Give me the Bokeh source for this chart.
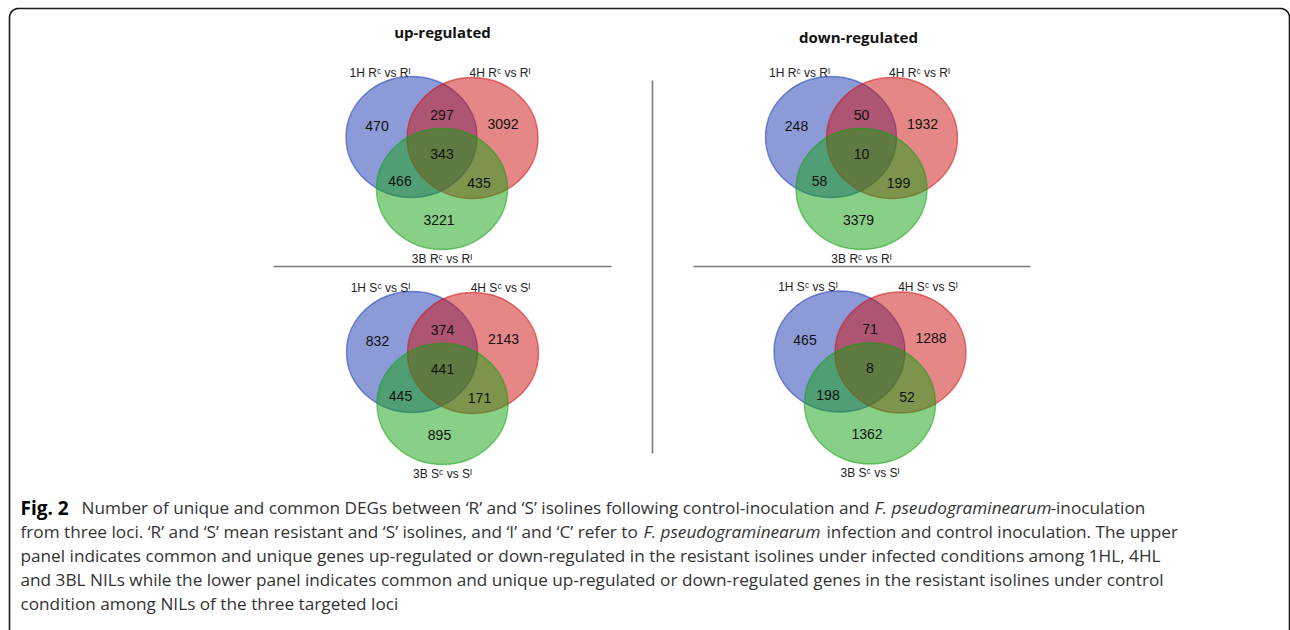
import math
from bokeh.plotting import figure
from bokeh.models import Range1d
from bokeh.core.properties import value
from bokeh.embed import file_html
from bokeh.resources import INLINE

# ---------------------------------------------------------------- data
# Gene counts per Venn region, in the order of `regions`
regions = ["1H only", "1H & 4H", "4H only", "1H & 4H & 3B", "1H & 3B", "4H & 3B", "3B only"]
up_infected = [470, 297, 3092, 343, 466, 435, 3221]
down_infected = [248, 50, 1932, 10, 58, 199, 3379]
up_control = [832, 374, 2143, 441, 445, 171, 895]
down_control = [465, 71, 1288, 8, 198, 52, 1362]

labels_infected = ["1H R\u1d9c vs R\u1d35", "4H R\u1d9c vs R\u1d35", "3B R\u1d9c vs R\u1d35"]
labels_control = ["1H S\u1d9c vs S\u1d35", "4H S\u1d9c vs S\u1d35", "3B S\u1d9c vs S\u1d35"]

column_titles = ["up-regulated", "down-regulated"]

caption_lines = [
    [("Fig. 2", "bold"),
     ("Number of unique and common DEGs between \u2018R\u2019 and \u2018S\u2019 isolines following control-inoculation and", "normal"),
     ("F. pseudograminearum", "italic"),
     ("-inoculation", "normal")],
    [("from three loci. \u2018R\u2019 and \u2018S\u2019 mean resistant and \u2018S\u2019 isolines, and \u2018I\u2019 and \u2018C\u2019 refer to", "normal"),
     ("F. pseudograminearum", "italic"),
     ("infection and control inoculation. The upper", "normal")],
    [("panel indicates common and unique genes up-regulated or down-regulated in the resistant isolines under infected conditions among 1HL, 4HL", "normal")],
    [("and 3BL NILs while the lower panel indicates common and unique up-regulated or down-regulated genes in the resistant isolines under control", "normal")],
    [("condition among NILs of the three targeted loci", "normal")],
]

# ---------------------------------------------------------------- layout
W, H = 1290, 630
panels = [
    # (counts, set labels, centre x, centre y)
    (up_infected, labels_infected, 441.5, 137.0),
    (down_infected, labels_infected, 861.0, 137.0),
    (up_control, labels_control, 442.0, 352.0),
    (down_control, labels_control, 869.5, 351.5),
]
ELL_W, ELL_H = 131, 121
set_offsets = [(-30.5, -0.5), (30.5, 0.5), (0.0, 51.5)]
set_fill = ["#1937AF", "#CD0F0F", "#11A111"]
region_offsets = [(-65, -12), (0, -23), (61, -14), (0, 16), (-42, 43), (37, 45), (-3, 82)]
label_offsets = [(-62, -65), (58, -65), (0, 121)]
title_pos = [(442, 31), (858, 36)]

# left edge of each caption segment (the italic name is about 175 px wide)
caption_x = {0: [20, 81, 874, 1050], 1: [20, 643, 826], 2: [20], 3: [20], 4: [20]}
caption_y = [507, 531, 555, 579, 603]
caption_size = {"bold": "19px", "normal": "17.2px", "italic": "17.2px"}

p = figure(width=W, height=H, output_backend="svg", toolbar_location=None,
           x_range=Range1d(0, W), y_range=Range1d(H, 0),
           x_axis_location=None, y_axis_location=None, min_border=0)
p.grid.visible = False
p.outline_line_color = None
p.background_fill_color = "white"

# frame with rounded top corners
x0, x1, y0, r = 9.0, 1289.0, 8.0, 9.0
bx, by = [x0], [H + 10.0]
for k in range(13):
    t = math.pi + 0.5 * math.pi * k / 12
    bx.append(x0 + r + r * math.cos(t)); by.append(y0 + r + r * math.sin(t))
for k in range(13):
    t = 1.5 * math.pi + 0.5 * math.pi * k / 12
    bx.append(x1 - r + r * math.cos(t)); by.append(y0 + r + r * math.sin(t))
bx.append(x1); by.append(H + 10.0)
p.line(bx, by, line_color="#1a1a1a", line_width=1.6)

# separators
p.line([273, 611], [266, 266], line_color="#7a7a7a", line_width=1.6)
p.line([693, 1030], [266, 266], line_color="#7a7a7a", line_width=1.6)
p.line([652, 652], [80, 453], line_color="#7a7a7a", line_width=1.6)

# Venn ellipses, one call per set so later sets overlay earlier ones
for s in range(3):
    xs = [cx + set_offsets[s][0] for _, _, cx, cy in panels]
    ys = [cy + set_offsets[s][1] for _, _, cx, cy in panels]
    p.ellipse(x=xs, y=ys, width=ELL_W, height=ELL_H,
              fill_color=set_fill[s], fill_alpha=0.5,
              line_color=set_fill[s], line_alpha=0.55, line_width=1.4)

# region counts and set labels
nx, ny, nt = [], [], []
lx, ly, lt = [], [], []
for counts, labels, cx, cy in panels:
    for (dx, dy), n in zip(region_offsets, counts):
        nx.append(cx + dx); ny.append(cy + dy); nt.append(str(n))
    for (dx, dy), lab in zip(label_offsets, labels):
        lx.append(cx + dx); ly.append(cy + dy); lt.append(lab)
p.text(x=nx, y=ny, text=nt, text_align="center", text_baseline="middle",
       text_font=value("Liberation Sans"), text_font_size="14px", text_color="#111111")
p.text(x=lx, y=ly, text=lt, text_align="center", text_baseline="middle",
       text_font=value("Liberation Sans"), text_font_size="12px", text_color="#222222")

# column titles
p.text(x=[t[0] for t in title_pos], y=[t[1] for t in title_pos], text=column_titles,
       text_align="center", text_baseline="middle", text_font=value("Open Sans"),
       text_font_size="15px", text_font_style="bold", text_color="#111111")

# caption
for i, segs in enumerate(caption_lines):
    for (txt, style), x in zip(segs, caption_x[i]):
        p.text(x=[x], y=[caption_y[i]], text=[txt], text_align="left",
               text_baseline="middle", text_font=value("Open Sans"),
               text_font_size=caption_size[style], text_font_style=style,
               text_color="#000000" if style == "bold" else "#333333")

open("out.html", "w").write(file_html(p, INLINE))
